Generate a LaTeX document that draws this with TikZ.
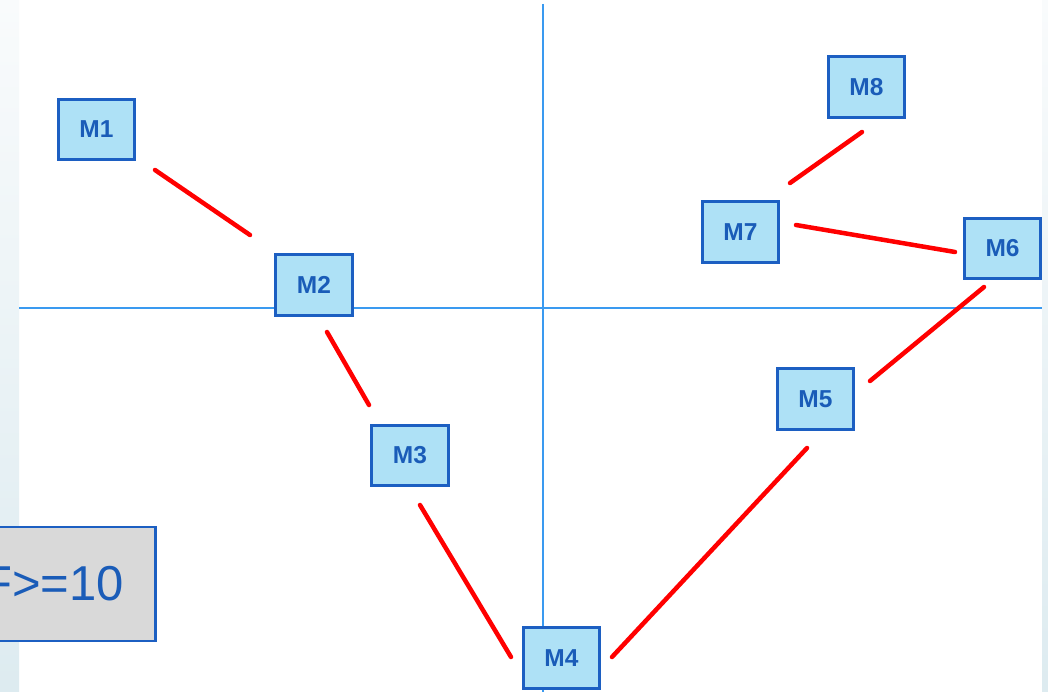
\documentclass[tikz,border=0pt]{standalone}
\usepackage{fontspec}
\setmainfont{Liberation Sans}
\begin{document}
\begin{tikzpicture}[x=1pt,y=-1pt,
  mbox/.style={draw=boxblue,fill=boxfill,line width=2.6pt,minimum width=76.5pt,minimum height=60.5pt,inner sep=0pt,text=txtblue,font=\fontsize{24.5}{28}\bfseries\selectfont},
  fbox/.style={draw=boxblue,fill=fgray,line width=2.6pt,minimum width=205pt,minimum height=114pt,inner sep=0pt,text=txtblue,font=\fontsize{49}{54}\selectfont},
  link/.style={draw=red,line width=4.5pt,line cap=round},
  axis/.style={draw=axisblue,line width=1.1pt}]
\definecolor{boxblue}{HTML}{1C5FC2}
\definecolor{boxfill}{HTML}{AEE1F6}
\definecolor{txtblue}{HTML}{1A5CB8}
\definecolor{fgray}{HTML}{D9D9D9}
\definecolor{axisblue}{HTML}{3A9AF0}
\definecolor{stripA}{HTML}{F9FBFC}
\definecolor{stripB}{HTML}{DDEBF0}
\useasboundingbox (0,0) rectangle (1048,692);
\clip (0,0) rectangle (1048,692);
\fill[white] (0,0) rectangle (1048,692);
\shade[top color=stripA,bottom color=stripB] (0,0) rectangle (19,692);
\shade[top color=stripA,bottom color=stripB] (1042,0) rectangle (1048,692);
% axes
\coordinate (vtop) at (543,4);
\coordinate (vbot) at (543,692);
\coordinate (hl) at (19,308);
\coordinate (hr) at (1042,308);
\draw[axis] (vtop) -- (vbot);
\draw[axis] (hl) -- (hr);
% nodes
\node[mbox] (M1) at (96.5,129.5) {M1};
\node[mbox] (M2) at (314,285) {M2};
\node[mbox] (M3) at (410,455.5) {M3};
\node[mbox] (M4) at (561.5,658) {M4};
\node[mbox] (M5) at (815.5,399) {M5};
\node[mbox] (M6) at (1002.5,248.5) {M6};
\node[mbox] (M7) at (740.5,232) {M7};
\node[mbox] (M8) at (866.5,87) {M8};
\node[fbox] (F) at (53,584) {F>=10};
% links
\draw[link] ([shift={(58.5,40.5)}]M1.center) -- ([shift={(-64,-50)}]M2.center);
\draw[link] ([shift={(13,47)}]M2.center) -- ([shift={(-41,-50.5)}]M3.center);
\draw[link] ([shift={(10,49.5)}]M3.center) -- ([shift={(-50.5,-1)}]M4.center);
\draw[link] ([shift={(50.5,-1)}]M4.center) -- ([shift={(-8.5,49)}]M5.center);
\draw[link] ([shift={(54.5,-18)}]M5.center) -- ([shift={(-18.5,38.5)}]M6.center);
\draw[link] ([shift={(55.5,-7)}]M7.center) -- ([shift={(-47.5,3.5)}]M6.center);
\draw[link] ([shift={(-4.5,45)}]M8.center) -- ([shift={(49.5,-49)}]M7.center);
\end{tikzpicture}
\end{document}
